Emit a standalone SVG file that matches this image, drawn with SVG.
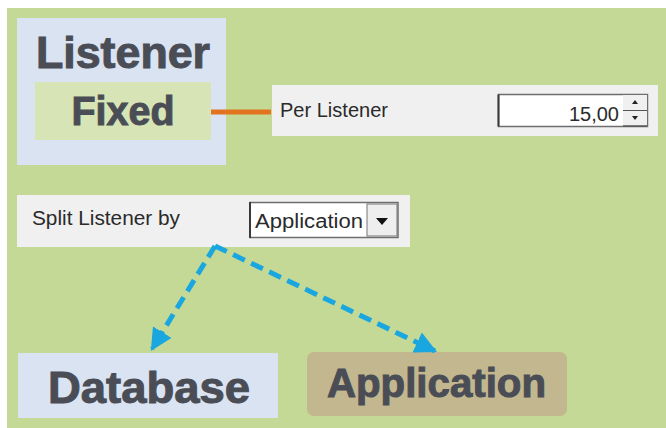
<svg xmlns="http://www.w3.org/2000/svg" width="666" height="428" viewBox="0 0 666 428">
  <defs>
    <style>
      .big { font-family: "Liberation Sans", Arial, sans-serif; font-weight: bold; fill: #4a4d55; stroke: #4a4d55; stroke-width: 1; text-anchor: middle; }
      .ui { font-family: "Liberation Sans", Arial, sans-serif; fill: #2a2a2a; font-size: 20px; }
      .panel { fill: #f0f0f0; }
      .conn { fill: none; stroke: #1aa6df; stroke-width: 5; stroke-dasharray: 13 7; }
    </style>
    <marker id="arrow" viewBox="0 0 10 10" refX="9" refY="5" markerWidth="4.4" markerHeight="4.4" orient="auto" markerUnits="strokeWidth">
      <path d="M0,0 L10,5 L0,10 z" fill="#1aa6df"/>
    </marker>
  </defs>
  <rect x="0" y="0" width="666" height="428" fill="#ffffff"/>
  <rect x="7" y="8" width="659" height="420" fill="#c5d997"/>

  <g id="listener">
    <rect x="17" y="18" width="209" height="147" fill="#d9e3f2"/>
    <text class="big" x="123" y="68" font-size="44" textLength="174" lengthAdjust="spacingAndGlyphs">Listener</text>
  </g>

  <g id="fixed">
    <rect x="35" y="82" width="176" height="58" fill="#d6e4b6"/>
    <text class="big" x="123" y="125" font-size="40" textLength="103" lengthAdjust="spacingAndGlyphs" fill="#44464a" stroke="#44464a">Fixed</text>
  </g>

  <g id="per-listener">
    <rect class="panel" x="272" y="85" width="386" height="51"/>
    <text class="ui" x="280" y="117" textLength="108" lengthAdjust="spacingAndGlyphs">Per Listener</text>
    <rect x="498.5" y="94.5" width="149" height="32" fill="#ffffff" stroke="#6e6e6e" stroke-width="1.5"/>
    <line x1="498.5" y1="94.5" x2="498.5" y2="126.5" stroke="#3a3a3a" stroke-width="2"/>
    <text class="ui" x="619" y="121" text-anchor="end" font-size="20">15,00</text>
    <rect x="623" y="95" width="24" height="31" fill="#f0f0f0"/>
    <line x1="623" y1="110.5" x2="647" y2="110.5" stroke="#555" stroke-width="1"/>
    <line x1="623" y1="126" x2="647" y2="126" stroke="#555" stroke-width="1.5"/>
    <path d="M632,104 L638,104 L635,100 z" fill="#222"/>
    <path d="M632,116 L638,116 L635,120 z" fill="#222"/>
  </g>

  <g id="split-listener">
    <rect class="panel" x="17" y="195" width="393" height="52"/>
    <text class="ui" x="32" y="225" textLength="148" lengthAdjust="spacingAndGlyphs">Split Listener by</text>
    <rect x="250" y="202.5" width="148" height="35" fill="#ffffff" stroke="#6e6e6e" stroke-width="1.5"/>
    <line x1="250" y1="202" x2="250" y2="238" stroke="#3a3a3a" stroke-width="2"/>
    <text class="ui" x="255" y="228" font-size="22" textLength="108" lengthAdjust="spacingAndGlyphs">Application</text>
    <rect x="367" y="204" width="30" height="32" fill="#eeeeee" stroke="#777" stroke-width="1"/>
    <path d="M376,218 L388,218 L382,225 z" fill="#111"/>
  </g>

  <g id="database">
    <rect x="18" y="353" width="260" height="65" fill="#d9e3f2"/>
    <text class="big" x="149" y="403" font-size="44" textLength="202" lengthAdjust="spacingAndGlyphs">Database</text>
  </g>

  <g id="application">
    <rect x="307" y="352" width="260" height="64" rx="7" fill="#c3b78f"/>
    <text class="big" x="436.5" y="397" font-size="40" textLength="219" lengthAdjust="spacingAndGlyphs" fill="#57534a" stroke="#57534a">Application</text>
  </g>

  <g id="connectors">
    <line x1="211" y1="112" x2="271" y2="112" stroke="#e2741f" stroke-width="5"/>
    <path class="conn" d="M215,246 L152,349" marker-end="url(#arrow)"/>
    <path class="conn" d="M215,246 L435,351" marker-end="url(#arrow)"/>
  </g>
</svg>
